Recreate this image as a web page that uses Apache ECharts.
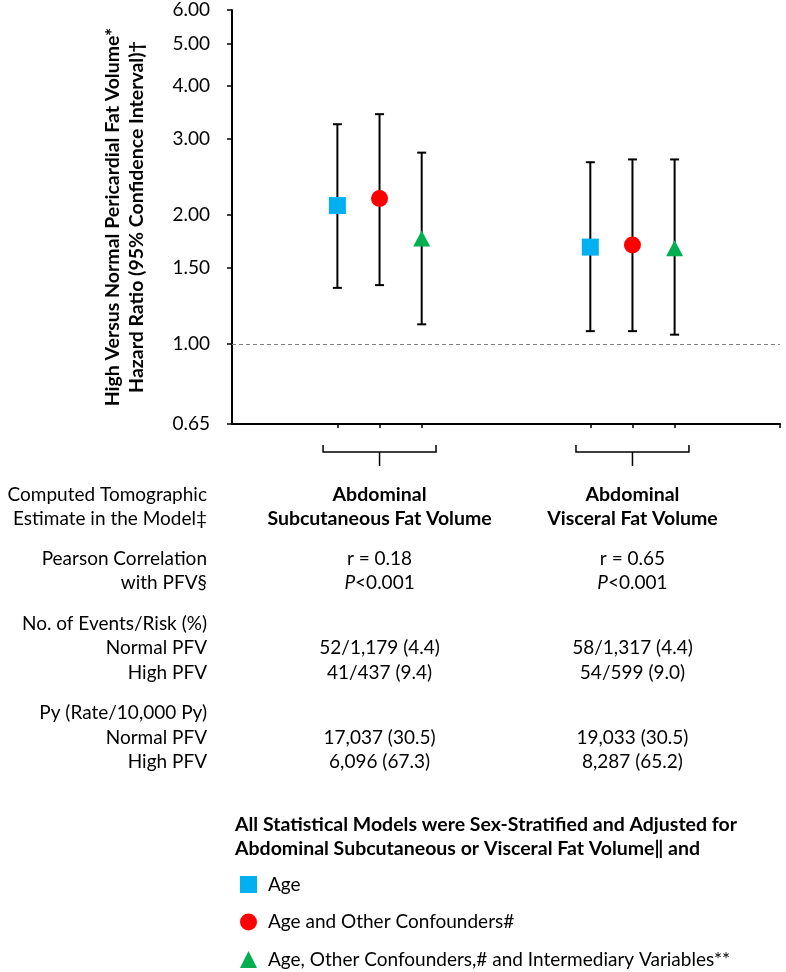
<!DOCTYPE html>
<html><head><meta charset="utf-8">
<script src="https://cdn.jsdelivr.net/npm/echarts@6/dist/echarts.min.js"></script>
<style>html,body{margin:0;padding:0;background:#fff}#c{width:786px;height:972px}</style>
</head><body><div id="c"></div>
<script>
// ---- data ----
const groupNames = ['Abdominal Subcutaneous Fat Volume', 'Abdominal Visceral Fat Volume'];
const groupSlots = [3.5, 9.5];          // group centre on the x value axis
const slotOffsets = [-1, 0, 1];         // model offset within a group
const modelNames = ['Age', 'Age and Other Confounders#', 'Age, Other Confounders,# and Intermediary Variables**'];
const hrAge    = [2.10, 1.68];
const lowAge   = [1.35, 1.07];
const highAge  = [3.25, 2.65];
const hrConf   = [2.18, 1.70];
const lowConf  = [1.37, 1.07];
const highConf = [3.43, 2.69];
const hrInter  = [1.76, 1.67];
const lowInter = [1.11, 1.05];
const highInter= [2.79, 2.69];
const yTickValues = [0.65, 1, 1.5, 2, 3, 4, 5, 6];
const referenceHR = 1;
const yTitle = ['High Versus Normal Pericardial Fat Volume*', 'Hazard Ratio (95% Confidence Interval)\u2020'];
const rowLabels = ['Computed Tomographic', 'Estimate in the Model\u2021', 'Pearson Correlation', 'with PFV\u00a7',
  'No. of Events/Risk (%)', 'Normal PFV', 'High PFV', 'Py (Rate/10,000 Py)', 'Normal PFV', 'High PFV'];
const col1 = ['Abdominal', 'Subcutaneous Fat Volume', 'r = 0.18', '{i|P}<0.001', '', '52/1,179 (4.4)', '41/437 (9.4)', '', '17,037 (30.5)', '6,096 (67.3)'];
const col2 = ['Abdominal', 'Visceral Fat Volume', 'r = 0.65', '{i|P}<0.001', '', '58/1,317 (4.4)', '54/599 (9.0)', '', '19,033 (30.5)', '8,287 (65.2)'];
const legendTitle = ['All Statistical Models were Sex-Stratified and Adjusted for', 'Abdominal Subcutaneous or Visceral Fat Volume\u2016 and'];

// ---- layout ----
const rowY = [495, 519, 559, 583, 624, 648, 673, 713, 738, 762];
const FONT = 'Lato';
const FS = 19, FSB = 19.5;
const hr = [hrAge, hrConf, hrInter], lo = [lowAge, lowConf, lowInter], hi = [highAge, highConf, highInter];
const colors = ['#00B0F0', '#FF0000', '#00B050'];
const symbols = ['rect', 'circle', 'triangle'];
const symSizes = [17, 17, [17, 16]];

const chart = echarts.init(document.getElementById('c'), null, {renderer: 'canvas'});

const errData = [];
for (let m = 0; m < 3; m++) for (let g = 0; g < 2; g++)
  errData.push([groupSlots[g] + slotOffsets[m], lo[m][g], hi[m][g]]);

const series = [{
  type: 'custom', name: 'ci', z: 2, silent: true,
  data: errData,
  renderItem: function (params, api) {
    const top = api.coord([api.value(0), api.value(2)]);
    const bot = api.coord([api.value(0), api.value(1)]);
    const w = 4.5, st = {stroke: '#000', lineWidth: 2};
    return {type: 'group', children: [
      {type: 'line', shape: {x1: top[0], y1: top[1], x2: bot[0], y2: bot[1]}, style: st},
      {type: 'line', shape: {x1: top[0] - w, y1: top[1], x2: top[0] + w, y2: top[1]}, style: st},
      {type: 'line', shape: {x1: bot[0] - w, y1: bot[1], x2: bot[0] + w, y2: bot[1]}, style: st}
    ]};
  },
  markLine: {
    silent: true, symbol: 'none', label: {show: false},
    lineStyle: {type: [4, 3], color: '#7f7f7f', width: 1},
    data: [{yAxis: referenceHR}]
  }
}, {
  type: 'custom', name: 'bracket', z: 2, silent: true, clip: false,
  data: groupSlots.map(s => [s]),
  renderItem: function (params, api) {
    const s = api.value(0);
    const c = api.coord([s, yTickValues[0]]);
    const l = api.coord([s - 1.34, yTickValues[0]]);
    const r = api.coord([s + 1.34, yTickValues[0]]);
    const y = c[1];
    const st = {stroke: '#000', lineWidth: 1.5, fill: null};
    return {type: 'group', children: [
      {type: 'polyline', shape: {points: [[l[0], y + 21], [l[0], y + 28], [r[0], y + 28], [r[0], y + 21]]}, style: st},
      {type: 'line', shape: {x1: c[0], y1: y + 28, x2: c[0], y2: y + 42}, style: st}
    ]};
  }
}];
for (let m = 0; m < 3; m++) {
  series.push({
    type: 'scatter', name: modelNames[m], z: 3,
    symbol: symbols[m], symbolSize: symSizes[m],
    itemStyle: {color: colors[m], opacity: 1},
    data: groupSlots.map((s, g) => [s + slotOffsets[m], hr[m][g]])
  });
}

chart.setOption({
  animation: false,
  textStyle: {fontFamily: FONT},
  grid: {left: 232, right: 6, top: 10, bottom: 548, containLabel: false},
  xAxis: {
    type: 'value', min: 0, max: 13,
    axisLine: {show: true, onZero: false, lineStyle: {color: '#000', width: 2}},
    axisTick: {show: true, length: 4, lineStyle: {color: '#000', width: 1.5},
      customValues: groupSlots.flatMap(s => slotOffsets.map(o => s + o)).concat([13])},
    axisLabel: {show: false}, splitLine: {show: false}
  },
  yAxis: {
    type: 'log', logBase: 10, min: yTickValues[0], max: yTickValues[yTickValues.length - 1],
    name: yTitle.join('\n'), nameLocation: 'middle', nameRotate: 90, nameGap: 83,
    nameTextStyle: {fontFamily: FONT, fontWeight: 'bold', fontSize: FSB, lineHeight: 24, color: '#000'},
    axisLine: {show: true, lineStyle: {color: '#000', width: 2}},
    axisTick: {show: true, length: 5, lineStyle: {color: '#000', width: 1.5}, customValues: yTickValues},
    axisLabel: {customValues: yTickValues, formatter: v => Number(v).toFixed(2), fontSize: FS, color: '#000', margin: 22, fontFamily: FONT},
    splitLine: {show: false}, minorTick: {show: false}
  },
  legend: {
    data: modelNames, orient: 'vertical', left: 235, top: 870, height: 200,
    itemWidth: 17, itemHeight: 17, itemGap: 18.5,
    textStyle: {fontFamily: FONT, fontSize: FS, color: '#000', padding: [0, 0, 0, 6]},
    selectedMode: false
  },
  series: series
});

const colX = groupSlots.map(s => chart.convertToPixel({xAxisIndex: 0}, s));
const graphics = [];
rowLabels.forEach((t, i) => graphics.push({
  type: 'text', x: 207, y: rowY[i],
  style: {text: t, align: 'right', verticalAlign: 'middle', font: FS + 'px ' + FONT, fill: '#000'}
}));
[col1, col2].forEach((col, c) => col.forEach((t, i) => {
  if (!t) return;
  graphics.push({
    type: 'text', x: colX[c], y: rowY[i],
    style: {text: t, align: 'center', verticalAlign: 'middle', fill: '#000',
      fontFamily: FONT, fontSize: i < 2 ? FSB : FS, fontWeight: i < 2 ? 'bold' : 'normal',
      rich: {i: {fontStyle: 'italic', fontFamily: FONT, fontSize: FS}}}
  });
}));
legendTitle.forEach((t, i) => graphics.push({
  type: 'text', x: 235, y: 825 + i * 24,
  style: {text: t, align: 'left', verticalAlign: 'middle', font: 'bold ' + FSB + 'px ' + FONT, fill: '#000'}
}));
chart.setOption({graphic: graphics});
</script></body></html>
